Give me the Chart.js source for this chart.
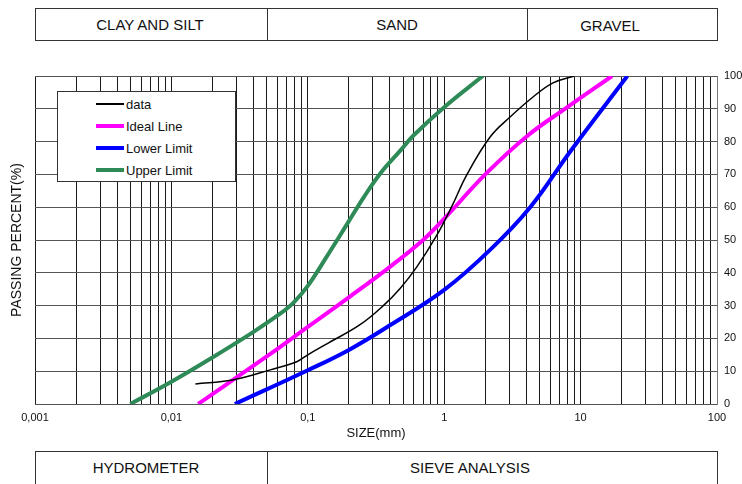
<!DOCTYPE html>
<html>
<head>
<meta charset="utf-8">
<script src="https://cdn.jsdelivr.net/npm/chart.js@4/dist/chart.umd.min.js"></script>
<style>
  html, body { margin:0; padding:0; background:#fff; }
  #wrap { position:relative; width:742px; height:484px; overflow:hidden; font-family:"Liberation Sans", Arial, sans-serif; }
  #c { position:absolute; left:0; top:0; }
  .box { position:absolute; border:1px solid #333; box-sizing:border-box; background:#fff; }
  .div { position:absolute; width:1px; background:#333; }
  .lbl { position:absolute; transform:translate(-50%,-50%); font-size:15px; color:#111; white-space:nowrap; }
  #legend { position:absolute; left:57px; top:91px; width:179px; height:91px; border:1px solid #333; box-sizing:border-box; background:#fff; }
  .row { position:absolute; left:0; height:20px; width:100%; }
  .sw { position:absolute; left:38px; width:28px; top:50%; }
  .tx { position:absolute; left:68px; top:50%; transform:translateY(-50%); font-size:13px; color:#111; white-space:nowrap; }
</style>
</head>
<body>
<div id="wrap">
  <canvas id="c" width="742" height="484"></canvas>

  <div class="box" style="left:35px; top:8px; width:683px; height:33px;"></div>
  <div class="div" style="left:267px; top:8px; height:33px;"></div>
  <div class="div" style="left:527px; top:8px; height:33px;"></div>
  <div class="lbl" style="left:150px; top:24px;">CLAY AND SILT</div>
  <div class="lbl" style="left:397px; top:24px;">SAND</div>
  <div class="lbl" style="left:610px; top:25px;">GRAVEL</div>

  <div class="box" style="left:35px; top:451px; width:683px; height:50px;"></div>
  <div class="div" style="left:267px; top:451px; height:40px;"></div>
  <div class="lbl" style="left:146px; top:467px;">HYDROMETER</div>
  <div class="lbl" style="left:470px; top:467px;">SIEVE ANALYSIS</div>

  <div id="legend"></div>
</div>
<script>
// ---- data (size in mm, passing in %) ----
const dataSize  = [0.015, 0.028, 0.053, 0.083, 0.1, 0.14, 0.24, 0.358, 0.475, 0.63, 0.87, 1.13, 1.47, 2.17, 3.04, 4.48, 6.28, 9.0];
const dataPass  = [6.1, 7.3, 10.4, 12.9, 15, 18.5, 24.1, 30, 35.2, 41.8, 51, 60, 70, 81.4, 87.5, 93.6, 97.9, 100];

const idealSize = [0.0157, 0.05, 0.1, 0.2, 0.4, 0.7, 1.0, 2.0, 4.0, 8.0, 17];
const idealPass = [0, 14.5, 23.5, 32.5, 41.8, 50, 56.5, 70, 81.5, 90.5, 100];

const lowerSize = [0.0292, 0.1, 0.2, 0.4, 1.0, 2.17, 4.27, 8.4, 22];
const lowerPass = [0, 10.3, 16.5, 24, 34.8, 47, 60, 77, 100];

const upperSize = [0.005, 0.01, 0.02, 0.04, 0.063, 0.079, 0.1, 0.138, 0.195, 0.257, 0.34, 0.48, 0.6, 1.0, 1.92];
const upperPass = [0, 6.8, 14.2, 22, 27.6, 31, 36, 45, 55, 63, 70.3, 77.4, 82, 90.5, 100];

const seriesNames = ['data', 'Ideal Line', 'Lower Limit', 'Upper Limit'];
const xDecades    = [0.001, 0.01, 0.1, 1, 10, 100];
const xTickLabels = ['0,001', '0,01', '0,1', '1', '10', '100'];
const yTickLabels = ['0','10','20','30','40','50','60','70','80','90','100'];

const pts = (xs, ys) => xs.map((x, i) => ({ x: x, y: ys[i] }));

const datasets = [
  { label: seriesNames[0], data: pts(dataSize, dataPass),   borderColor: '#000000', borderWidth: 1.5 },
  { label: seriesNames[1], data: pts(idealSize, idealPass), borderColor: '#FF00FF', borderWidth: 4 },
  { label: seriesNames[2], data: pts(lowerSize, lowerPass), borderColor: '#0000FF', borderWidth: 4 },
  { label: seriesNames[3], data: pts(upperSize, upperPass), borderColor: '#2E8B57', borderWidth: 4 }
].map(d => Object.assign(d, { pointRadius: 0, fill: false, tension: 0.4, xAxisID: 'x', yAxisID: 'y' }));

const FONT = '"Liberation Sans", Arial, sans-serif';

const chart = new Chart(document.getElementById('c'), {
  type: 'line',
  data: { datasets: datasets },
  options: {
    responsive: false,
    animation: false,
    devicePixelRatio: 1,
    layout: { padding: { left: 9, right: 0, top: 76, bottom: 43 } },
    plugins: { legend: { display: false }, tooltip: { enabled: false } },
    scales: {
      x: {
        type: 'logarithmic',
        position: 'bottom',
        min: 0.001, max: 100,
        afterBuildTicks: (s) => {
          const t = [];
          for (let k = 0; k < xDecades.length - 1; k++) {
            for (let m = 1; m <= 9; m++) t.push({ value: m * xDecades[k] });
          }
          t.push({ value: xDecades[xDecades.length - 1] });
          s.ticks = t;
        },
        afterFit: (s) => { s.height = 37; },
        ticks: {
          autoSkip: false, maxRotation: 0, minRotation: 0, padding: 7,
          color: '#111', font: { family: FONT, size: 11 },
          callback: (v) => {
            for (let j = 0; j < xDecades.length; j++) {
              if (Math.abs(Math.log10(v) - Math.log10(xDecades[j])) < 1e-6) return xTickLabels[j];
            }
            return '';
          }
        },
        grid: { color: '#1a1a1a', lineWidth: 1, drawTicks: false },
        border: { color: '#555', width: 1 },
        title: { display: true, text: 'SIZE(mm)', color: '#111', font: { family: FONT, size: 13 }, padding: 0 }
      },
      y: {
        type: 'linear',
        position: 'right',
        min: 0, max: 100,
        afterFit: (s) => { s.width = 25; },
        ticks: {
          stepSize: 10, padding: 7, color: '#111', font: { family: FONT, size: 11 },
          callback: (v, i) => yTickLabels[i]
        },
        grid: { color: '#555', lineWidth: 1, drawTicks: false },
        border: { color: '#777', width: 1 }
      },
      yLeft: {
        type: 'linear',
        position: 'left',
        min: 0, max: 100,
        afterFit: (s) => { s.width = 26; },
        ticks: { display: false },
        grid: { display: false, drawTicks: false },
        border: { display: false },
        title: { display: true, text: 'PASSING PERCENT(%)', color: '#111', font: { family: FONT, size: 14 }, padding: 0 }
      }
    }
  }
});

// HTML legend built from the chart's datasets
const lg = document.getElementById('legend');
chart.data.datasets.forEach((d, i) => {
  const row = document.createElement('div');
  row.className = 'row';
  row.style.top = (2 + i * 22) + 'px';
  const sw = document.createElement('div');
  sw.className = 'sw';
  const h = d.borderWidth >= 3 ? 4 : 2;
  sw.style.height = h + 'px';
  sw.style.marginTop = (-h / 2) + 'px';
  sw.style.background = d.borderColor;
  const tx = document.createElement('div');
  tx.className = 'tx';
  tx.textContent = d.label;
  row.appendChild(sw); row.appendChild(tx);
  lg.appendChild(row);
});
</script>
</body>
</html>
